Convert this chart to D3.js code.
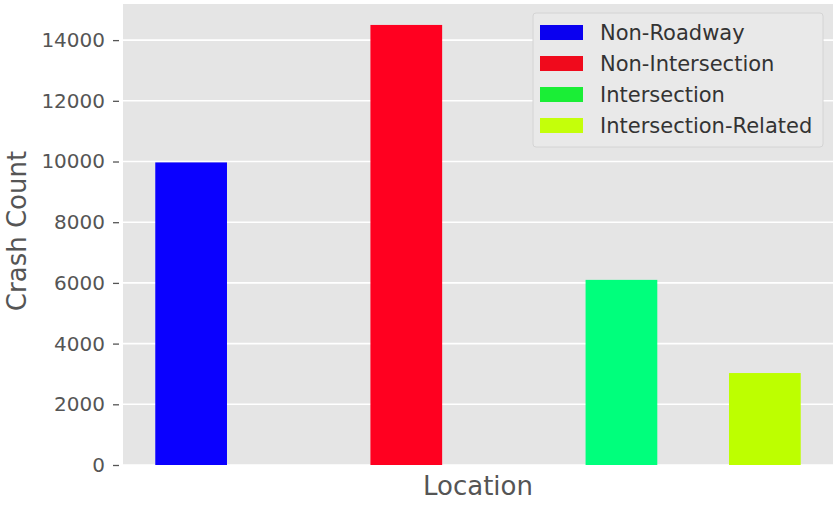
<!DOCTYPE html>
<html>
<head>
<meta charset="utf-8">
<script src="https://cdn.jsdelivr.net/npm/d3@7"></script>
<style>
  body { margin: 0; background: #fff; }
  text { font-family: "DejaVu Sans", sans-serif; }
</style>
</head>
<body>
<div id="target"></div>
<script>
const categories = ["Non-Roadway", "Non-Intersection", "Intersection", "Intersection-Related"];
const counts = [9970, 14500, 6100, 3030];
const slots = [0, 1.5, 3, 4];
const barColors = ["#0a00ff", "#ff0020", "#00ff7c", "#bdff00"];
const legendColors = ["#0a00f0", "#f00a1c", "#1aee36", "#c4ff0a"];
const yTicks = [0, 2000, 4000, 6000, 8000, 10000, 12000, 14000];

function chart() {
  const width = 837,
    height = 513,
    margin = {top: 4, right: 4, bottom: 48, left: 123};

  const innerW = width - margin.left - margin.right,
    innerH = height - margin.top - margin.bottom;

  let svg = d3.select("#target").append("svg")
    .attr("width", width)
    .attr("height", height);
  let g = svg.append("g")
    .attr("transform", `translate(${margin.left},${margin.top})`);

  let x = d3.scaleLinear()
    .domain([-0.475, 4.475])
    .range([0, innerW]);
  let y = d3.scaleLinear()
    .domain([0, 15190])
    .range([innerH, 0]);
  const barW = x(0.5) - x(0);

  g.append("rect")
    .attr("width", innerW)
    .attr("height", innerH)
    .attr("fill", "#e5e5e5");

  g.append("g")
    .selectAll("line")
    .data(yTicks)
    .enter().append("line")
    .attr("x1", 0)
    .attr("x2", innerW)
    .attr("y1", (d) => y(d))
    .attr("y2", (d) => y(d))
    .attr("stroke", "#fff")
    .attr("stroke-width", 1.6);

  // ggplot-style ticks sit a little away from the panel
  let yAxis = d3.axisLeft(y)
    .tickValues(yTicks)
    .tickSize(10)
    .tickPadding(8)
    .tickFormat(d3.format("d"));
  let ya = g.append("g").call(yAxis);
  ya.select(".domain").remove();
  ya.selectAll(".tick line")
    .attr("x2", -4)
    .attr("x1", -10)
    .attr("stroke", "#555")
    .attr("stroke-width", 1.3);
  ya.selectAll(".tick text")
    .attr("fill", "#555")
    .style("font-size", "20px");

  g.selectAll(".bar")
    .data(counts)
    .enter().append("rect")
    .attr("class", "bar")
    .attr("x", (d, i) => x(slots[i]) - barW / 2)
    .attr("width", barW)
    .attr("y", (d) => y(d))
    .attr("height", (d) => innerH - y(d))
    .attr("fill", (d, i) => barColors[i]);

  svg.append("text")
    .attr("x", margin.left + innerW / 2)
    .attr("y", 495)
    .attr("text-anchor", "middle")
    .attr("fill", "#555")
    .style("font-size", "26px")
    .text("Location");

  svg.append("text")
    .attr("transform", "translate(26,231) rotate(-90)")
    .attr("text-anchor", "middle")
    .attr("fill", "#555")
    .style("font-size", "26px")
    .text("Crash Count");

  let legend = svg.append("g")
    .attr("transform", "translate(533,13)");
  legend.append("rect")
    .attr("width", 290)
    .attr("height", 134)
    .attr("rx", 3)
    .attr("fill", "#e9e9e9")
    .attr("stroke", "#d4d4d4");
  let rows = legend.selectAll(".row")
    .data(categories)
    .enter().append("g")
    .attr("transform", (d, i) => `translate(0,${19 + i * 31})`);
  rows.append("rect")
    .attr("x", 7)
    .attr("y", -7)
    .attr("width", 43)
    .attr("height", 15)
    .attr("fill", (d, i) => legendColors[i]);
  rows.append("text")
    .attr("x", 67)
    .attr("y", 8)
    .attr("fill", "#333")
    .style("font-size", "21px")
    .text((d) => d);
}
chart();
</script>
</body>
</html>
